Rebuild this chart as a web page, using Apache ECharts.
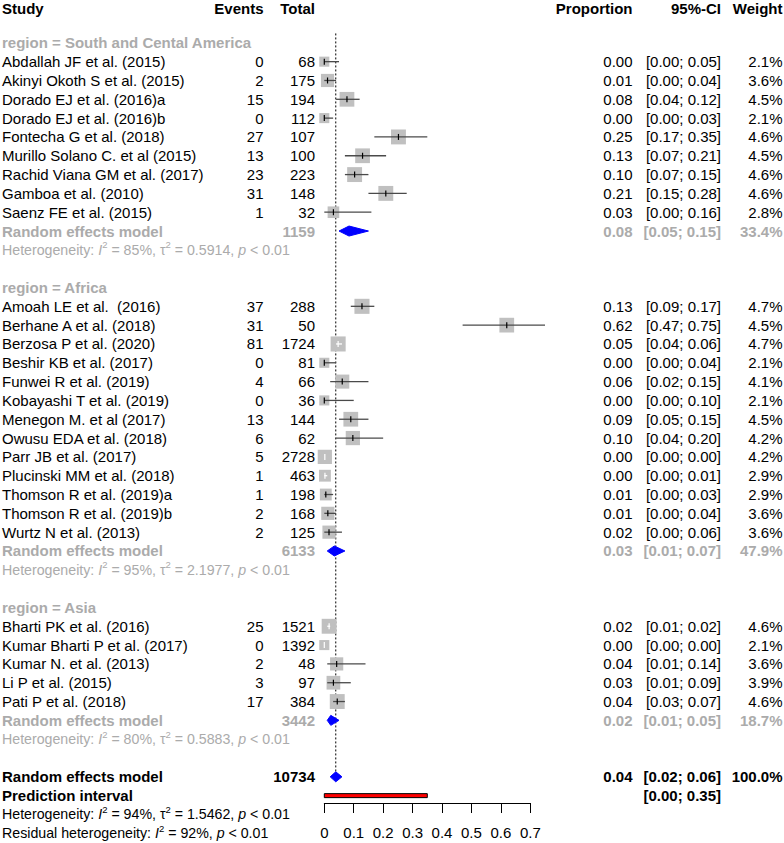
<!DOCTYPE html>
<html>
<head>
<meta charset="utf-8">
<script src="https://cdn.jsdelivr.net/npm/echarts@6/dist/echarts.min.js"></script>
<style>
html,body{margin:0;padding:0;background:#fff;}
#chart{width:784px;height:843px;}
</style>
</head>
<body>
<div id="chart"></div>
<script>
// ---------------- DATA ----------------
const regionNames = ['South and Cental America', 'Africa', 'Asia'];

const studyNames = [
  'Abdallah JF et al. (2015)', 'Akinyi Okoth S et al. (2015)', 'Dorado EJ et al. (2016)a',
  'Dorado EJ et al. (2016)b', 'Fontecha G et al. (2018)', 'Murillo Solano C. et al (2015)',
  'Rachid Viana GM et al. (2017)', 'Gamboa et al. (2010)', 'Saenz FE et al. (2015)',
  'Amoah LE et al.  (2016)', 'Berhane A et al. (2018)', 'Berzosa P et al. (2020)',
  'Beshir KB et al. (2017)', 'Funwei R et al. (2019)', 'Kobayashi T et al. (2019)',
  'Menegon M. et al (2017)', 'Owusu EDA et al. (2018)', 'Parr JB et al. (2017)',
  'Plucinski MM et al. (2018)', 'Thomson R et al. (2019)a', 'Thomson R et al. (2019)b',
  'Wurtz N et al. (2013)',
  'Bharti PK et al. (2016)', 'Kumar Bharti P et al. (2017)', 'Kumar N. et al. (2013)',
  'Li P et al. (2015)', 'Pati P et al. (2018)'
];
const studyRegion = [0,0,0,0,0,0,0,0,0, 1,1,1,1,1,1,1,1,1,1,1,1,1, 2,2,2,2,2];
const events = [0, 2, 15, 0, 27, 13, 23, 31, 1, 37, 31, 81, 0, 4, 0, 13, 6, 5, 1, 1, 2, 2, 25, 0, 2, 3, 17];
const totals = [68, 175, 194, 112, 107, 100, 223, 148, 32, 288, 50, 1724, 81, 66, 36, 144, 62, 2728, 463, 198, 168, 125, 1521, 1392, 48, 97, 384];
const proportions = [0.000, 0.011, 0.077, 0.000, 0.252, 0.130, 0.103, 0.209, 0.031,
  0.128, 0.620, 0.047, 0.000, 0.061, 0.000, 0.090, 0.097, 0.0018, 0.0022, 0.0051, 0.012, 0.016,
  0.0164, 0.000, 0.042, 0.031, 0.044];
const ciLower = [0.00, 0.00, 0.04, 0.00, 0.17, 0.07, 0.07, 0.15, 0.00,
  0.09, 0.47, 0.04, 0.00, 0.02, 0.00, 0.05, 0.04, 0.00, 0.00, 0.00, 0.00, 0.00,
  0.01, 0.00, 0.01, 0.01, 0.03];
const ciUpper = [0.05, 0.04, 0.12, 0.03, 0.35, 0.21, 0.15, 0.28, 0.16,
  0.17, 0.75, 0.06, 0.04, 0.15, 0.10, 0.15, 0.20, 0.00, 0.01, 0.03, 0.04, 0.06,
  0.02, 0.00, 0.14, 0.09, 0.07];
const weights = [2.1, 3.6, 4.5, 2.1, 4.6, 4.5, 4.6, 4.6, 2.8,
  4.7, 4.5, 4.7, 2.1, 4.1, 2.1, 4.5, 4.2, 4.2, 2.9, 2.9, 3.6, 3.6,
  4.6, 2.1, 3.6, 3.9, 4.6];

const subTotals = [1159, 6133, 3442];
const subEstimates = [0.084, 0.034, 0.022];
const subLower = [0.05, 0.01, 0.01];
const subUpper = [0.15, 0.07, 0.05];
const subWeights = ['33.4%', '47.9%', '18.7%'];
const subI2 = [85, 95, 80];
const subTau2 = ['0.5914', '2.1977', '0.5883'];

const overallTotal = 10734;
const overallEstimate = 0.039;
const overallLower = 0.02;
const overallUpper = 0.06;
const overallWeight = '100.0%';
const predLower = 0.00;
const predUpper = 0.35;
const overallI2 = 94;
const overallTau2 = '1.5462';
const residualI2 = 92;

const tickValues = [0, 0.1, 0.2, 0.3, 0.4, 0.5, 0.6, 0.7];
const tickLabels = ['0', '0.1', '0.2', '0.3', '0.4', '0.5', '0.6', '0.7'];

// ---------------- LAYOUT / STYLE ----------------
const FONT = '"Liberation Sans", Arial, sans-serif';
const FS = 15;
const FS_HET = 14.2;
const GRAY = '#ababab';
const SQUARE = '#c0c0c0';
const X_STUDY = 2, X_EVENTS = 263.5, X_TOTAL = 315, X_PROP = 632.5, X_CI = 721, X_WEIGHT = 782.5;

// build row model
const rows = [];
let r = 0;
rows.push({row: r, kind: 'header'}); r += 2;
regionNames.forEach((name, g) => {
  rows.push({row: r++, kind: 'region', g});
  studyNames.forEach((s, i) => { if (studyRegion[i] === g) rows.push({row: r++, kind: 'study', i}); });
  rows.push({row: r++, kind: 'subREM', g});
  rows.push({row: r++, kind: 'subHet', g});
  r++;
});
rows.push({row: r++, kind: 'overall'});
rows.push({row: r++, kind: 'pred'});
rows.push({row: r++, kind: 'het'});
rows.push({row: r++, kind: 'resid'});
const lastRow = r - 1;

function fmtCI(a, b) { return '[' + a.toFixed(2) + '; ' + b.toFixed(2) + ']'; }

function txt(x, y, text, opt) {
  opt = opt || {};
  return {
    type: 'text',
    style: {
      x: x, y: y, text: text,
      fill: opt.fill || '#000',
      fontSize: opt.fontSize || FS,
      fontFamily: FONT,
      fontWeight: opt.bold ? 'bold' : 'normal',
      align: opt.align || 'left',
      verticalAlign: 'middle',
      rich: opt.rich
    }
  };
}

function hetRich(color) {
  return {
    it: {fontStyle: 'italic', fontSize: FS_HET, fontFamily: FONT, fill: color, lineHeight: 20},
    sup: {fontSize: 9.5, fontFamily: FONT, fill: color, verticalAlign: 'top', lineHeight: 10},
    n: {fontSize: FS_HET, fontFamily: FONT, fill: color, lineHeight: 20}
  };
}

function renderRow(params, api) {
  const item = rows[api.value(2)];
  const rowV = api.value(1);
  const y = api.coord([0, rowV])[1];
  const px = v => api.coord([v, rowV])[0];
  const ch = [];
  if (item.kind === 'header') {
    const yh = y + 3.5;
    ch.push(txt(X_STUDY, yh, 'Study', {bold: true}));
    ch.push(txt(X_EVENTS, yh, 'Events', {bold: true, align: 'right'}));
    ch.push(txt(X_TOTAL, yh, 'Total', {bold: true, align: 'right'}));
    ch.push(txt(X_PROP, yh, 'Proportion', {bold: true, align: 'right'}));
    ch.push(txt(X_CI, yh, '95%-CI', {bold: true, align: 'right'}));
    ch.push(txt(X_WEIGHT, yh, 'Weight', {bold: true, align: 'right'}));
  } else if (item.kind === 'region') {
    ch.push(txt(X_STUDY, y, 'region = ' + regionNames[item.g], {bold: true, fill: GRAY}));
  } else if (item.kind === 'study') {
    const i = item.i;
    const est = proportions[i], lo = ciLower[i], hi = ciUpper[i];
    const side = 6.95 * Math.sqrt(weights[i]);
    const cx = px(est);
    const xl = px(lo), xh = px(hi);
    const inside = xl >= cx - side / 2 && xh <= cx + side / 2;
    const lineColor = inside ? '#ffffff' : '#4a4a4a';
    ch.push({type: 'rect', shape: {x: cx - side / 2, y: y - side / 2, width: side, height: side}, style: {fill: SQUARE}});
    ch.push({type: 'line', shape: {x1: xl, y1: y, x2: xh, y2: y}, style: {stroke: lineColor, lineWidth: 1.3}});
    ch.push({type: 'line', shape: {x1: cx, y1: y - 3, x2: cx, y2: y + 3}, style: {stroke: inside ? '#ffffff' : '#000', lineWidth: 1.2}});
    ch.push(txt(X_STUDY, y, studyNames[i]));
    ch.push(txt(X_EVENTS, y, String(events[i]), {align: 'right'}));
    ch.push(txt(X_TOTAL, y, String(totals[i]), {align: 'right'}));
    ch.push(txt(X_PROP, y, est.toFixed(2), {align: 'right'}));
    ch.push(txt(X_CI, y, fmtCI(lo, hi), {align: 'right'}));
    ch.push(txt(X_WEIGHT, y, weights[i].toFixed(1) + '%', {align: 'right'}));
  } else if (item.kind === 'subREM' || item.kind === 'overall') {
    const sub = item.kind === 'subREM';
    const g = item.g;
    const est = sub ? subEstimates[g] : overallEstimate;
    const lo = sub ? subLower[g] : overallLower;
    const hi = sub ? subUpper[g] : overallUpper;
    const h = 5;
    ch.push({type: 'polygon', shape: {points: [[px(lo), y], [px(est), y - h], [px(hi), y], [px(est), y + h]]},
      style: {fill: '#0000ff', stroke: '#0000ff', lineWidth: 1}});
    const col = sub ? GRAY : '#000';
    ch.push(txt(X_STUDY, y, 'Random effects model', {bold: true, fill: col}));
    ch.push(txt(X_TOTAL, y, String(sub ? subTotals[g] : overallTotal), {bold: true, fill: col, align: 'right'}));
    ch.push(txt(X_PROP, y, est.toFixed(2), {bold: true, fill: col, align: 'right'}));
    ch.push(txt(X_CI, y, fmtCI(lo, hi), {bold: true, fill: col, align: 'right'}));
    ch.push(txt(X_WEIGHT, y, sub ? subWeights[g] : overallWeight, {bold: true, fill: col, align: 'right'}));
  } else if (item.kind === 'subHet' || item.kind === 'het') {
    const sub = item.kind === 'subHet';
    const col = sub ? GRAY : '#000';
    const i2 = sub ? subI2[item.g] : overallI2;
    const t2 = sub ? subTau2[item.g] : overallTau2;
    const s = '{n|Heterogeneity: }{it|I}{sup|2}{n| = ' + i2 + '%, \u03c4}{sup|2}{n| = ' + t2 + ', }{it|p}{n| < 0.01}';
    ch.push(txt(X_STUDY, y, s, {fill: col, rich: hetRich(col), fontSize: FS_HET}));
  } else if (item.kind === 'resid') {
    const s = '{n|Residual heterogeneity: }{it|I}{sup|2}{n| = ' + residualI2 + '%, }{it|p}{n| < 0.01}';
    ch.push(txt(X_STUDY, y, s, {rich: hetRich('#000'), fontSize: FS_HET}));
  } else if (item.kind === 'pred') {
    ch.push({type: 'rect', shape: {x: px(predLower), y: y - 2, width: px(predUpper) - px(predLower), height: 4},
      style: {fill: '#ff0000', stroke: '#000', lineWidth: 1}});
    ch.push(txt(X_STUDY, y, 'Prediction interval', {bold: true}));
    ch.push(txt(X_CI, y, fmtCI(predLower, predUpper), {bold: true, align: 'right'}));
  }
  return {type: 'group', children: ch};
}

const ROW0 = 5.2, ROWH = 18.82;
const chart = echarts.init(document.getElementById('chart'), null, {renderer: 'svg'});
chart.setOption({
  animation: false,
  backgroundColor: '#fff',
  grid: [
    {left: 324.3, width: 206, top: ROW0, height: ROWH * lastRow},
    {left: 324.3, width: 206, top: 790, height: 13}
  ],
  xAxis: [
    {gridIndex: 0, type: 'value', min: 0, max: 0.7, show: false},
    {gridIndex: 1, type: 'value', min: 0, max: 0.7, interval: 0.1,
      axisLine: {show: true, lineStyle: {color: '#000', width: 1}},
      axisTick: {show: true, length: 10, lineStyle: {color: '#000', width: 1}},
      splitLine: {show: false},
      axisLabel: {color: '#000', fontSize: FS, fontFamily: FONT, margin: 22, showMinLabel: true, showMaxLabel: true,
        formatter: v => { const k = tickValues.findIndex(t => Math.abs(t - v) < 1e-9); return k >= 0 ? tickLabels[k] : ''; }}
    }
  ],
  yAxis: [
    {gridIndex: 0, type: 'value', min: 0, max: lastRow, inverse: true, show: false},
    {gridIndex: 1, type: 'value', min: 0, max: 1, show: false}
  ],
  series: [
    {
      type: 'line', xAxisIndex: 0, yAxisIndex: 0, z: 1,
      data: [[overallEstimate, 1.5], [overallEstimate, lastRow - 3]],
      symbol: 'none', silent: true,
      lineStyle: {color: '#000', width: 1, type: [2, 2]}
    },
    {
      type: 'custom', xAxisIndex: 0, yAxisIndex: 0, z: 2, silent: true, clip: false,
      data: rows.map((o, k) => [0, o.row, k]),
      encode: {x: 0, y: 1},
      renderItem: renderRow
    }
  ]
});
</script>
</body>
</html>
